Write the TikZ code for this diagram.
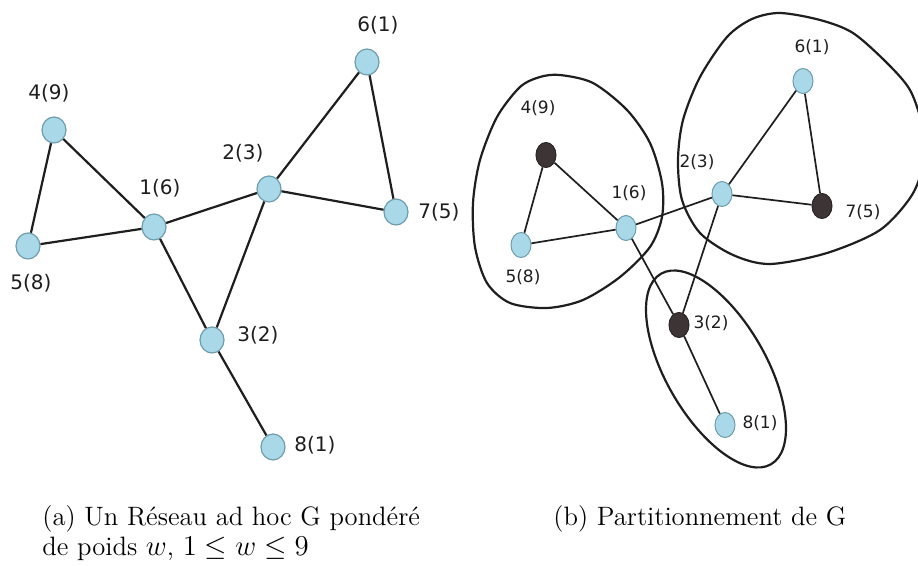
\documentclass[tikz,border=0pt]{standalone}
\usepackage{fontspec}
\usetikzlibrary{shapes.geometric}
\newfontfamily\lblfont{DejaVu Sans}
\definecolor{nodeblue}{HTML}{A9D9E8}
\definecolor{nodeedge}{HTML}{6E9DAB}
\definecolor{nodedark}{HTML}{3D3535}
\definecolor{inkgray}{HTML}{1E1E1E}
\tikzset{
  vtxA/.style={ellipse, draw=nodeedge, fill=nodeblue, line width=0.6pt,
    minimum width=12pt, minimum height=13pt, inner sep=0pt},
  vtxB/.style={ellipse, draw=nodeedge, fill=nodeblue, line width=0.5pt,
    minimum width=10pt, minimum height=12.5pt, inner sep=0pt},
  vtxBdark/.style={vtxB, draw=nodedark!70!black, fill=nodedark},
  lblA/.style={font=\lblfont\fontsize{10}{12}\selectfont, text=inkgray, inner sep=0pt},
  lblB/.style={font=\lblfont\fontsize{8.5}{10}\selectfont, text=inkgray, inner sep=0pt},
  edgeA/.style={draw=inkgray, line width=1.1pt},
  edgeB/.style={draw=inkgray, line width=0.85pt},
  cluster/.style={draw=inkgray, line width=1.1pt},
  captext/.style={anchor=base west, inner sep=0pt, font=\fontsize{13.3}{16}\selectfont},
}
\begin{document}
\begin{tikzpicture}[x=0.5pt,y=-0.5pt]
\useasboundingbox (0,0) rectangle (918,566);
\clip (0,0) rectangle (918,566);

% ---- (a) weighted ad hoc network ----
\node[vtxA] (a1) at (154,227) {};
\node[vtxA] (a2) at (269,189) {};
\node[vtxA] (a3) at (212,340) {};
\node[vtxA] (a4) at (54,130) {};
\node[vtxA] (a5) at (28,246) {};
\node[vtxA] (a6) at (367,62) {};
\node[vtxA] (a7) at (396,212) {};
\node[vtxA] (a8) at (273,447) {};

\node[lblA] (la1) at (160,188) {1(6)};
\node[lblA] (la2) at (243,153) {2(3)};
\node[lblA] (la3) at (258,335) {3(2)};
\node[lblA] (la4) at (49,93) {4(9)};
\node[lblA] (la5) at (31,283) {5(8)};
\node[lblA] (la6) at (378,25) {6(1)};
\node[lblA, anchor=west] (la7) at (418,212) {7(5)};
\node[lblA] (la8) at (315,445) {8(1)};

\foreach \u/\v in {a4/a1, a4/a5, a5/a1, a1/a2, a1/a3, a2/a3, a2/a6, a2/a7, a6/a7, a3/a8}
  \draw[edgeA] (\u) -- (\v);

% ---- (b) partition into clusters ----
\draw[cluster] plot[smooth cycle] coordinates {
  (560,75) (593,83) (627,110) (650,143) (662,183) (662,217) (650,247)
  (620,277) (583,300) (547,308) (510,303) (487,283) (475,247) (473,203)
  (480,160) (497,117) (520,87) (540,77)};
\draw[cluster] plot[smooth cycle] coordinates {
  (780,13) (820,20) (853,33) (887,63) (910,90) (922,125) (924,160)
  (912,195) (880,230) (827,253) (770,264) (733,255) (700,233) (682,200)
  (678,160) (683,120) (700,77) (727,37) (752,19)};
\draw[cluster, rotate around={-60:(716,369)}] (716,369) ellipse [x radius=55pt, y radius=25pt];

\node[vtxB] (b1) at (626,228) {};
\node[vtxB] (b2) at (722,194) {};
\node[vtxBdark] (b3) at (679,325) {};
\node[vtxBdark] (b4) at (546,155) {};
\node[vtxB] (b5) at (521,245) {};
\node[vtxB] (b6) at (803,81) {};
\node[vtxBdark] (b7) at (822,206) {};
\node[vtxB] (b8) at (725,425) {};

\node[lblB] (lb1) at (629,193) {1(6)};
\node[lblB] (lb2) at (697,162) {2(3)};
\node[lblB] (lb3) at (711,323) {3(2)};
\node[lblB] (lb4) at (538,108) {4(9)};
\node[lblB] (lb5) at (523,277) {5(8)};
\node[lblB] (lb6) at (812,47) {6(1)};
\node[lblB] (lb7) at (863,212) {7(5)};
\node[lblB] (lb8) at (760,423) {8(1)};

\foreach \u/\v in {b4/b1, b4/b5, b5/b1, b1/b2, b1/b3, b2/b3, b2/b6, b2/b7, b6/b7, b3/b8}
  \draw[edgeB] (\u) -- (\v);

% ---- captions ----
\node[captext] (capa) at (42,526) {(a) Un Réseau ad hoc G pondéré};
\node[captext] (capa2) at (42,556) {de poids $w$, $1 \leq w \leq 9$};
\node[captext] (capb) at (553,526) {(b) Partitionnement de G};
\end{tikzpicture}
\end{document}
